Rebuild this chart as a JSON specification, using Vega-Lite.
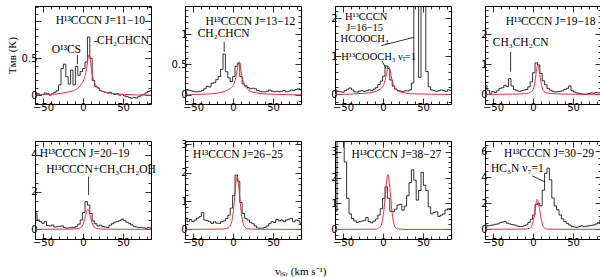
{
"$schema":"https://vega.github.io/schema/vega-lite/v6.json",
"padding":{"left":5,"top":1,"right":1,"bottom":0},
"bounds":"flush",
"columns":4,
"spacing":{"row":37,"column":34},
"title":{"text":"vₗₛᵣ (km s⁻¹)","orient":"bottom","anchor":"middle","font":"Liberation Serif","fontSize":11,"fontWeight":"normal","color":"black","offset":15,"dx":-3},
"datasets":{
"obs":[
{"p":1,"v":-59,"t":0.01},{"p":1,"v":-56,"t":0.02},{"p":1,"v":-53,"t":0.0},{"p":1,"v":-50,"t":0.01},{"p":1,"v":-47,"t":0.03},{"p":1,"v":-44,"t":0.02},{"p":1,"v":-41,"t":0.0},{"p":1,"v":-38,"t":0.02},{"p":1,"v":-35,"t":0.04},{"p":1,"v":-32,"t":0.06},{"p":1,"v":-29,"t":0.14},{"p":1,"v":-26,"t":0.36},{"p":1,"v":-23,"t":0.42},{"p":1,"v":-20,"t":0.25},{"p":1,"v":-17,"t":0.15},{"p":1,"v":-14,"t":0.34},{"p":1,"v":-11,"t":0.14},{"p":1,"v":-8,"t":0.39},{"p":1,"v":-5,"t":0.27},{"p":1,"v":-2,"t":0.32},{"p":1,"v":1,"t":0.36},{"p":1,"v":4,"t":0.45},{"p":1,"v":7,"t":0.79},{"p":1,"v":10,"t":0.5},{"p":1,"v":13,"t":0.2},{"p":1,"v":16,"t":0.12},{"p":1,"v":19,"t":0.1},{"p":1,"v":22,"t":0.06},{"p":1,"v":25,"t":0.05},{"p":1,"v":28,"t":0.04},{"p":1,"v":31,"t":0.03},{"p":1,"v":34,"t":0.04},{"p":1,"v":37,"t":0.02},{"p":1,"v":40,"t":0.01},{"p":1,"v":43,"t":0.02},{"p":1,"v":46,"t":0.0},{"p":1,"v":49,"t":0.01},{"p":1,"v":52,"t":-0.01},{"p":1,"v":55,"t":-0.02},{"p":1,"v":58,"t":-0.03},{"p":1,"v":61,"t":-0.04},{"p":1,"v":64,"t":-0.03},{"p":1,"v":67,"t":-0.04},{"p":1,"v":70,"t":-0.02},{"p":1,"v":73,"t":0.0},{"p":1,"v":76,"t":0.01},{"p":1,"v":79,"t":0.03},{"p":1,"v":82,"t":0.05},{"p":1,"v":85,"t":0.06},
{"p":2,"v":-59,"t":0.08},{"p":2,"v":-56,"t":0.08},{"p":2,"v":-53,"t":0.07},{"p":2,"v":-50,"t":0.06},{"p":2,"v":-47,"t":0.05},{"p":2,"v":-44,"t":0.05},{"p":2,"v":-41,"t":0.06},{"p":2,"v":-38,"t":0.07},{"p":2,"v":-35,"t":0.1},{"p":2,"v":-32,"t":0.14},{"p":2,"v":-29,"t":0.13},{"p":2,"v":-26,"t":0.19},{"p":2,"v":-23,"t":0.2},{"p":2,"v":-20,"t":0.25},{"p":2,"v":-17,"t":0.3},{"p":2,"v":-14,"t":0.42},{"p":2,"v":-11,"t":0.67},{"p":2,"v":-8,"t":0.38},{"p":2,"v":-5,"t":0.28},{"p":2,"v":-2,"t":0.22},{"p":2,"v":1,"t":0.3},{"p":2,"v":4,"t":0.47},{"p":2,"v":7,"t":0.52},{"p":2,"v":10,"t":0.3},{"p":2,"v":13,"t":0.18},{"p":2,"v":16,"t":0.15},{"p":2,"v":19,"t":0.12},{"p":2,"v":22,"t":0.1},{"p":2,"v":25,"t":0.11},{"p":2,"v":28,"t":0.1},{"p":2,"v":31,"t":0.07},{"p":2,"v":34,"t":0.06},{"p":2,"v":37,"t":0.05},{"p":2,"v":40,"t":0.05},{"p":2,"v":43,"t":0.06},{"p":2,"v":46,"t":0.08},{"p":2,"v":49,"t":0.06},{"p":2,"v":52,"t":0.05},{"p":2,"v":55,"t":0.06},{"p":2,"v":58,"t":0.05},{"p":2,"v":61,"t":0.06},{"p":2,"v":64,"t":0.07},{"p":2,"v":67,"t":0.05},{"p":2,"v":70,"t":0.06},{"p":2,"v":73,"t":0.08},{"p":2,"v":76,"t":0.07},{"p":2,"v":79,"t":0.09},{"p":2,"v":82,"t":0.1},{"p":2,"v":85,"t":0.08},
{"p":3,"v":-59,"t":0.12},{"p":3,"v":-56,"t":0.08},{"p":3,"v":-53,"t":0.07},{"p":3,"v":-50,"t":0.06},{"p":3,"v":-47,"t":0.1},{"p":3,"v":-44,"t":0.14},{"p":3,"v":-41,"t":0.17},{"p":3,"v":-38,"t":0.12},{"p":3,"v":-35,"t":0.07},{"p":3,"v":-32,"t":0.06},{"p":3,"v":-29,"t":0.09},{"p":3,"v":-26,"t":0.1},{"p":3,"v":-23,"t":0.08},{"p":3,"v":-20,"t":0.1},{"p":3,"v":-17,"t":0.12},{"p":3,"v":-14,"t":0.1},{"p":3,"v":-11,"t":0.14},{"p":3,"v":-8,"t":0.18},{"p":3,"v":-5,"t":0.26},{"p":3,"v":-2,"t":0.35},{"p":3,"v":1,"t":0.48},{"p":3,"v":4,"t":0.75},{"p":3,"v":7,"t":0.68},{"p":3,"v":10,"t":0.38},{"p":3,"v":13,"t":0.22},{"p":3,"v":16,"t":0.14},{"p":3,"v":19,"t":0.1},{"p":3,"v":22,"t":0.09},{"p":3,"v":25,"t":0.08},{"p":3,"v":28,"t":0.1},{"p":3,"v":31,"t":0.09},{"p":3,"v":34,"t":0.12},{"p":3,"v":37,"t":0.3},{"p":3,"v":40,"t":3.0},{"p":3,"v":43,"t":3.0},{"p":3,"v":46,"t":0.45},{"p":3,"v":49,"t":3.0},{"p":3,"v":52,"t":3.0},{"p":3,"v":55,"t":0.6},{"p":3,"v":58,"t":0.2},{"p":3,"v":61,"t":0.12},{"p":3,"v":64,"t":0.1},{"p":3,"v":67,"t":0.08},{"p":3,"v":70,"t":0.1},{"p":3,"v":73,"t":0.12},{"p":3,"v":76,"t":0.1},{"p":3,"v":79,"t":0.08},{"p":3,"v":82,"t":0.12},{"p":3,"v":85,"t":0.1},
{"p":4,"v":-59,"t":0.3},{"p":4,"v":-56,"t":0.14},{"p":4,"v":-53,"t":0.04},{"p":4,"v":-50,"t":0.1},{"p":4,"v":-47,"t":0.06},{"p":4,"v":-44,"t":0.12},{"p":4,"v":-41,"t":0.2},{"p":4,"v":-38,"t":0.22},{"p":4,"v":-35,"t":0.3},{"p":4,"v":-32,"t":0.26},{"p":4,"v":-29,"t":0.52},{"p":4,"v":-26,"t":0.28},{"p":4,"v":-23,"t":0.16},{"p":4,"v":-20,"t":0.12},{"p":4,"v":-17,"t":0.1},{"p":4,"v":-14,"t":0.12},{"p":4,"v":-11,"t":0.14},{"p":4,"v":-8,"t":0.16},{"p":4,"v":-5,"t":0.25},{"p":4,"v":-2,"t":0.42},{"p":4,"v":1,"t":0.72},{"p":4,"v":4,"t":1.05},{"p":4,"v":7,"t":0.98},{"p":4,"v":10,"t":0.7},{"p":4,"v":13,"t":0.45},{"p":4,"v":16,"t":0.32},{"p":4,"v":19,"t":0.2},{"p":4,"v":22,"t":0.14},{"p":4,"v":25,"t":0.1},{"p":4,"v":28,"t":0.08},{"p":4,"v":31,"t":0.09},{"p":4,"v":34,"t":0.1},{"p":4,"v":37,"t":0.12},{"p":4,"v":40,"t":0.16},{"p":4,"v":43,"t":0.2},{"p":4,"v":46,"t":0.28},{"p":4,"v":49,"t":0.12},{"p":4,"v":52,"t":0.08},{"p":4,"v":55,"t":0.05},{"p":4,"v":58,"t":0.03},{"p":4,"v":61,"t":0.02},{"p":4,"v":64,"t":0.0},{"p":4,"v":67,"t":0.01},{"p":4,"v":70,"t":0.03},{"p":4,"v":73,"t":0.05},{"p":4,"v":76,"t":0.04},{"p":4,"v":79,"t":0.06},{"p":4,"v":82,"t":0.05},{"p":4,"v":85,"t":0.07},
{"p":5,"v":-59,"t":0.86},{"p":5,"v":-56,"t":0.5},{"p":5,"v":-53,"t":0.41},{"p":5,"v":-50,"t":0.32},{"p":5,"v":-47,"t":0.41},{"p":5,"v":-44,"t":0.2},{"p":5,"v":-41,"t":0.18},{"p":5,"v":-38,"t":0.23},{"p":5,"v":-35,"t":0.12},{"p":5,"v":-32,"t":0.14},{"p":5,"v":-29,"t":0.16},{"p":5,"v":-26,"t":0.18},{"p":5,"v":-23,"t":0.1},{"p":5,"v":-20,"t":0.06},{"p":5,"v":-17,"t":0.08},{"p":5,"v":-14,"t":0.1},{"p":5,"v":-11,"t":0.1},{"p":5,"v":-8,"t":0.15},{"p":5,"v":-5,"t":0.28},{"p":5,"v":-2,"t":0.5},{"p":5,"v":1,"t":0.9},{"p":5,"v":4,"t":1.48},{"p":5,"v":7,"t":1.3},{"p":5,"v":10,"t":0.85},{"p":5,"v":13,"t":0.45},{"p":5,"v":16,"t":0.3},{"p":5,"v":19,"t":0.18},{"p":5,"v":22,"t":0.22},{"p":5,"v":25,"t":0.15},{"p":5,"v":28,"t":0.12},{"p":5,"v":31,"t":0.1},{"p":5,"v":34,"t":0.22},{"p":5,"v":37,"t":0.3},{"p":5,"v":40,"t":0.38},{"p":5,"v":43,"t":0.42},{"p":5,"v":46,"t":0.46},{"p":5,"v":49,"t":0.54},{"p":5,"v":52,"t":0.48},{"p":5,"v":55,"t":0.38},{"p":5,"v":58,"t":0.32},{"p":5,"v":61,"t":0.24},{"p":5,"v":64,"t":0.16},{"p":5,"v":67,"t":0.12},{"p":5,"v":70,"t":0.1},{"p":5,"v":73,"t":0.1},{"p":5,"v":76,"t":0.08},{"p":5,"v":79,"t":0.05},{"p":5,"v":82,"t":0.1},{"p":5,"v":85,"t":0.06},
{"p":6,"v":-59,"t":0.39},{"p":6,"v":-56,"t":0.27},{"p":6,"v":-53,"t":0.35},{"p":6,"v":-50,"t":0.27},{"p":6,"v":-47,"t":0.33},{"p":6,"v":-44,"t":0.4},{"p":6,"v":-41,"t":0.45},{"p":6,"v":-38,"t":0.59},{"p":6,"v":-35,"t":0.33},{"p":6,"v":-32,"t":0.3},{"p":6,"v":-29,"t":0.27},{"p":6,"v":-26,"t":0.21},{"p":6,"v":-23,"t":0.27},{"p":6,"v":-20,"t":0.22},{"p":6,"v":-17,"t":0.21},{"p":6,"v":-14,"t":0.27},{"p":6,"v":-11,"t":0.3},{"p":6,"v":-8,"t":0.38},{"p":6,"v":-5,"t":0.5},{"p":6,"v":-2,"t":0.75},{"p":6,"v":1,"t":1.2},{"p":6,"v":4,"t":1.92},{"p":6,"v":7,"t":1.7},{"p":6,"v":10,"t":0.95},{"p":6,"v":13,"t":0.56},{"p":6,"v":16,"t":0.39},{"p":6,"v":19,"t":0.33},{"p":6,"v":22,"t":0.25},{"p":6,"v":25,"t":0.2},{"p":6,"v":28,"t":0.12},{"p":6,"v":31,"t":0.05},{"p":6,"v":34,"t":0.04},{"p":6,"v":37,"t":0.04},{"p":6,"v":40,"t":0.07},{"p":6,"v":43,"t":0.12},{"p":6,"v":46,"t":0.2},{"p":6,"v":49,"t":0.27},{"p":6,"v":52,"t":0.24},{"p":6,"v":55,"t":0.35},{"p":6,"v":58,"t":0.3},{"p":6,"v":61,"t":0.33},{"p":6,"v":64,"t":0.27},{"p":6,"v":67,"t":0.33},{"p":6,"v":70,"t":0.36},{"p":6,"v":73,"t":0.39},{"p":6,"v":76,"t":0.27},{"p":6,"v":79,"t":0.33},{"p":6,"v":82,"t":0.3},{"p":6,"v":85,"t":0.21},
{"p":7,"v":-59,"t":0.7},{"p":7,"v":-56,"t":3.6},{"p":7,"v":-53,"t":3.6},{"p":7,"v":-50,"t":3.6},{"p":7,"v":-47,"t":2.6},{"p":7,"v":-44,"t":1.2},{"p":7,"v":-41,"t":0.6},{"p":7,"v":-38,"t":0.42},{"p":7,"v":-35,"t":0.33},{"p":7,"v":-32,"t":0.27},{"p":7,"v":-29,"t":0.3},{"p":7,"v":-26,"t":0.32},{"p":7,"v":-23,"t":0.35},{"p":7,"v":-20,"t":0.46},{"p":7,"v":-17,"t":0.3},{"p":7,"v":-14,"t":0.25},{"p":7,"v":-11,"t":0.32},{"p":7,"v":-8,"t":0.4},{"p":7,"v":-5,"t":0.55},{"p":7,"v":-2,"t":0.8},{"p":7,"v":1,"t":1.2},{"p":7,"v":4,"t":1.64},{"p":7,"v":7,"t":1.2},{"p":7,"v":10,"t":0.7},{"p":7,"v":13,"t":0.68},{"p":7,"v":16,"t":0.78},{"p":7,"v":19,"t":0.94},{"p":7,"v":22,"t":0.97},{"p":7,"v":25,"t":0.74},{"p":7,"v":28,"t":0.9},{"p":7,"v":31,"t":1.3},{"p":7,"v":34,"t":1.8},{"p":7,"v":37,"t":2.3},{"p":7,"v":40,"t":1.9},{"p":7,"v":43,"t":1.13},{"p":7,"v":46,"t":1.5},{"p":7,"v":49,"t":2.2},{"p":7,"v":52,"t":1.7},{"p":7,"v":55,"t":1.5},{"p":7,"v":58,"t":0.87},{"p":7,"v":61,"t":0.6},{"p":7,"v":64,"t":0.65},{"p":7,"v":67,"t":0.68},{"p":7,"v":70,"t":0.5},{"p":7,"v":73,"t":0.55},{"p":7,"v":76,"t":0.6},{"p":7,"v":79,"t":0.75},{"p":7,"v":82,"t":0.8},{"p":7,"v":85,"t":0.8},
{"p":8,"v":-59,"t":0.33},{"p":8,"v":-56,"t":0.26},{"p":8,"v":-53,"t":0.3},{"p":8,"v":-50,"t":0.33},{"p":8,"v":-47,"t":0.38},{"p":8,"v":-44,"t":0.41},{"p":8,"v":-41,"t":0.5},{"p":8,"v":-38,"t":0.55},{"p":8,"v":-35,"t":0.59},{"p":8,"v":-32,"t":0.46},{"p":8,"v":-29,"t":0.41},{"p":8,"v":-26,"t":0.36},{"p":8,"v":-23,"t":0.33},{"p":8,"v":-20,"t":0.26},{"p":8,"v":-17,"t":0.22},{"p":8,"v":-14,"t":0.2},{"p":8,"v":-11,"t":0.26},{"p":8,"v":-8,"t":0.33},{"p":8,"v":-5,"t":0.51},{"p":8,"v":-2,"t":0.77},{"p":8,"v":1,"t":1.1},{"p":8,"v":4,"t":1.9},{"p":8,"v":7,"t":2.0},{"p":8,"v":10,"t":1.8},{"p":8,"v":13,"t":3.0},{"p":8,"v":16,"t":4.3},{"p":8,"v":19,"t":4.7},{"p":8,"v":22,"t":3.8},{"p":8,"v":25,"t":2.4},{"p":8,"v":28,"t":1.8},{"p":8,"v":31,"t":1.5},{"p":8,"v":34,"t":1.1},{"p":8,"v":37,"t":0.8},{"p":8,"v":40,"t":0.6},{"p":8,"v":43,"t":0.45},{"p":8,"v":46,"t":0.33},{"p":8,"v":49,"t":0.22},{"p":8,"v":52,"t":0.18},{"p":8,"v":55,"t":0.15},{"p":8,"v":58,"t":0.2},{"p":8,"v":61,"t":0.26},{"p":8,"v":64,"t":0.2},{"p":8,"v":67,"t":0.22},{"p":8,"v":70,"t":0.26},{"p":8,"v":73,"t":0.3},{"p":8,"v":76,"t":0.33},{"p":8,"v":79,"t":0.4},{"p":8,"v":82,"t":0.5},{"p":8,"v":85,"t":0.7}
],
"mod":[
{"p":1,"v":-60,"t":0.0},{"p":1,"v":-45,"t":0.01},{"p":1,"v":-30,"t":0.02},{"p":1,"v":-20,"t":0.04},{"p":1,"v":-12,"t":0.06},{"p":1,"v":-6,"t":0.1},{"p":1,"v":-2,"t":0.15},{"p":1,"v":1,"t":0.21},{"p":1,"v":3,"t":0.28},{"p":1,"v":5,"t":0.4},{"p":1,"v":6,"t":0.48},{"p":1,"v":7,"t":0.54},{"p":1,"v":8,"t":0.55},{"p":1,"v":9,"t":0.5},{"p":1,"v":10,"t":0.4},{"p":1,"v":12,"t":0.26},{"p":1,"v":14,"t":0.18},{"p":1,"v":17,"t":0.12},{"p":1,"v":20,"t":0.08},{"p":1,"v":25,"t":0.05},{"p":1,"v":35,"t":0.025},{"p":1,"v":50,"t":0.01},{"p":1,"v":85,"t":0.0},
{"p":2,"v":-60,"t":0.0},{"p":2,"v":-40,"t":0.01},{"p":2,"v":-25,"t":0.02},{"p":2,"v":-15,"t":0.04},{"p":2,"v":-8,"t":0.07},{"p":2,"v":-3,"t":0.11},{"p":2,"v":0,"t":0.15},{"p":2,"v":2,"t":0.21},{"p":2,"v":4,"t":0.32},{"p":2,"v":6,"t":0.47},{"p":2,"v":7,"t":0.53},{"p":2,"v":8,"t":0.54},{"p":2,"v":9,"t":0.5},{"p":2,"v":10,"t":0.4},{"p":2,"v":12,"t":0.26},{"p":2,"v":14,"t":0.17},{"p":2,"v":17,"t":0.11},{"p":2,"v":20,"t":0.07},{"p":2,"v":25,"t":0.045},{"p":2,"v":35,"t":0.02},{"p":2,"v":50,"t":0.01},{"p":2,"v":85,"t":0.0},
{"p":3,"v":-60,"t":0.0},{"p":3,"v":-40,"t":0.01},{"p":3,"v":-25,"t":0.03},{"p":3,"v":-15,"t":0.05},{"p":3,"v":-8,"t":0.09},{"p":3,"v":-3,"t":0.15},{"p":3,"v":0,"t":0.22},{"p":3,"v":2,"t":0.32},{"p":3,"v":4,"t":0.5},{"p":3,"v":6,"t":0.7},{"p":3,"v":7,"t":0.73},{"p":3,"v":8,"t":0.7},{"p":3,"v":10,"t":0.5},{"p":3,"v":12,"t":0.32},{"p":3,"v":14,"t":0.21},{"p":3,"v":17,"t":0.13},{"p":3,"v":20,"t":0.08},{"p":3,"v":25,"t":0.05},{"p":3,"v":35,"t":0.02},{"p":3,"v":50,"t":0.01},{"p":3,"v":85,"t":0.0},
{"p":4,"v":-60,"t":0.0},{"p":4,"v":-20,"t":0.01},{"p":4,"v":-8,"t":0.03},{"p":4,"v":-3,"t":0.07},{"p":4,"v":0,"t":0.15},{"p":4,"v":2,"t":0.35},{"p":4,"v":4,"t":0.72},{"p":4,"v":5,"t":0.9},{"p":4,"v":6,"t":0.97},{"p":4,"v":7,"t":0.92},{"p":4,"v":8,"t":0.75},{"p":4,"v":10,"t":0.4},{"p":4,"v":12,"t":0.18},{"p":4,"v":14,"t":0.09},{"p":4,"v":17,"t":0.05},{"p":4,"v":22,"t":0.03},{"p":4,"v":30,"t":0.015},{"p":4,"v":50,"t":0.005},{"p":4,"v":85,"t":0.0},
{"p":5,"v":-60,"t":0.0},{"p":5,"v":-15,"t":0.01},{"p":5,"v":-5,"t":0.05},{"p":5,"v":-2,"t":0.12},{"p":5,"v":0,"t":0.25},{"p":5,"v":2,"t":0.5},{"p":5,"v":4,"t":0.88},{"p":5,"v":6,"t":1.07},{"p":5,"v":8,"t":0.9},{"p":5,"v":10,"t":0.55},{"p":5,"v":12,"t":0.28},{"p":5,"v":14,"t":0.12},{"p":5,"v":17,"t":0.05},{"p":5,"v":22,"t":0.02},{"p":5,"v":35,"t":0.005},{"p":5,"v":85,"t":0.0},
{"p":6,"v":-60,"t":0.0},{"p":6,"v":-15,"t":0.01},{"p":6,"v":-6,"t":0.05},{"p":6,"v":-3,"t":0.15},{"p":6,"v":-1,"t":0.35},{"p":6,"v":1,"t":0.8},{"p":6,"v":3,"t":1.45},{"p":6,"v":4,"t":1.75},{"p":6,"v":5,"t":1.86},{"p":6,"v":6,"t":1.78},{"p":6,"v":7,"t":1.55},{"p":6,"v":9,"t":0.95},{"p":6,"v":11,"t":0.45},{"p":6,"v":13,"t":0.18},{"p":6,"v":15,"t":0.07},{"p":6,"v":18,"t":0.02},{"p":6,"v":30,"t":0.005},{"p":6,"v":85,"t":0.0},
{"p":7,"v":-60,"t":0.0},{"p":7,"v":-10,"t":0.01},{"p":7,"v":-4,"t":0.08},{"p":7,"v":-1,"t":0.3},{"p":7,"v":1,"t":0.7},{"p":7,"v":3,"t":1.35},{"p":7,"v":5,"t":1.95},{"p":7,"v":6,"t":2.12},{"p":7,"v":7,"t":2.0},{"p":7,"v":9,"t":1.45},{"p":7,"v":11,"t":0.75},{"p":7,"v":13,"t":0.3},{"p":7,"v":15,"t":0.1},{"p":7,"v":18,"t":0.02},{"p":7,"v":30,"t":0.0},{"p":7,"v":85,"t":0.0},
{"p":8,"v":-60,"t":0.0},{"p":8,"v":-10,"t":0.01},{"p":8,"v":-4,"t":0.08},{"p":8,"v":-1,"t":0.35},{"p":8,"v":1,"t":0.85},{"p":8,"v":3,"t":1.6},{"p":8,"v":4,"t":2.05},{"p":8,"v":5,"t":2.3},{"p":8,"v":6,"t":2.2},{"p":8,"v":8,"t":1.6},{"p":8,"v":10,"t":0.85},{"p":8,"v":12,"t":0.35},{"p":8,"v":14,"t":0.1},{"p":8,"v":17,"t":0.02},{"p":8,"v":30,"t":0.0},{"p":8,"v":85,"t":0.0}
],
"lab":[
{"p":1,"v":21.7,"t":1.0,"s":"H¹³CCCN J=11−10"},{"p":1,"v":-20.8,"t":0.61,"s":"O¹³CS"},{"p":1,"v":50,"t":0.74,"s":"CH₂CHCN"},
{"p":2,"v":21.7,"t":1.2,"s":"H¹³CCCN J=13−12"},{"p":2,"v":-11.7,"t":0.995,"s":"CH₂CHCN"},
{"p":3,"v":-21,"t":2.02,"s":"H¹³CCCN"},{"p":3,"v":-23,"t":1.74,"s":"J=16−15"},{"p":3,"v":-23,"t":1.46,"s":"HCOOCH₃"},{"p":3,"v":-5.5,"t":0.99,"s":"H¹³COOCH₃  νₜ=1"},
{"p":4,"v":22,"t":2.42,"s":"H¹³CCCN J=19−18"},{"p":4,"v":-15.4,"t":1.7,"s":"CH₃CH₂CN"},
{"p":5,"v":2,"t":4.04,"s":"H¹³CCCN J=20−19"},{"p":5,"v":22.5,"t":3.18,"s":"H¹³CCCN+CH₃CH₂OH"},
{"p":6,"v":6.25,"t":2.62,"s":"H¹³CCCN J=26−25"},
{"p":7,"v":16.8,"t":2.87,"s":"H¹³CCCN J=38−27"},
{"p":8,"v":20,"t":5.8,"s":"H¹³CCCN J=30−29"},{"p":8,"v":-19.6,"t":4.6,"s":"HC₃N  ν₇=1"}
],
"tk":[
{"p":1,"v":-7,"t":0.545,"v2":-7,"t2":0.42},{"p":1,"v":13.8,"t":0.727,"v2":18.8,"t2":0.727},
{"p":2,"v":-11,"t":0.87,"v2":-11,"t2":0.71},
{"p":3,"v":-2.4,"t":1.28,"v2":38.8,"t2":1.5},{"p":3,"v":-1.2,"t":0.876,"v2":4,"t2":0.68},
{"p":4,"v":-28,"t":1.42,"v2":-28,"t2":0.75},
{"p":5,"v":7,"t":2.82,"v2":7,"t2":1.84},
{"p":8,"v":-0.8,"t":4.1,"v2":15,"t2":3.64}
]
},
"concat":[
{"width":116,"height":98,"resolve":{"axis":{"x":"independent","y":"independent"}},"layer":[
{"data":{"name":"obs"},"transform":[{"filter":"datum.p==1"}],"mark":{"type":"line","interpolate":"step","color":"black","strokeWidth":0.8,"clip":true},"encoding":{"x":{"field":"v","type":"quantitative","scale":{"domain":[-60,85],"nice":false,"zero":false},"axis":{"orient":"bottom","title":null,"values":[-60,-50,-40,-30,-20,-10,0,10,20,30,40,50,60,70,80],"labelExpr":"datum.value % 50 === 0 ? datum.label : ''","tickSize":{"condition":{"test":"datum.value % 50 === 0","value":-6},"value":-3}}},"y":{"field":"t","type":"quantitative","scale":{"domain":[-0.12,1.21],"nice":false,"zero":false},"axis":{"orient":"left","title":"Tᴍʙ (K)","format":"~g","values":[-0.1,0,0.1,0.2,0.3,0.4,0.5,0.6,0.7,0.8,0.9,1.0,1.1,1.2],"labelExpr":"datum.value === 0 || datum.value === 0.5 ? datum.label : ''","tickSize":{"condition":{"test":"datum.value % 0.5 === 0","value":-6},"value":-3}}}}},
{"data":{"name":"mod"},"transform":[{"filter":"datum.p==1"}],"mark":{"type":"line","interpolate":"monotone","color":"#e3343c","strokeWidth":1,"clip":true},"encoding":{"x":{"field":"v","type":"quantitative","scale":{"domain":[-60,85],"nice":false,"zero":false},"axis":{"orient":"top","title":null,"labels":false,"values":[-60,-50,-40,-30,-20,-10,0,10,20,30,40,50,60,70,80],"tickSize":{"condition":{"test":"datum.value % 50 === 0","value":-6},"value":-3}}},"y":{"field":"t","type":"quantitative","scale":{"domain":[-0.12,1.21],"nice":false,"zero":false},"axis":{"orient":"right","title":null,"labels":false,"values":[-0.1,0,0.1,0.2,0.3,0.4,0.5,0.6,0.7,0.8,0.9,1.0,1.1,1.2],"tickSize":{"condition":{"test":"datum.value % 0.5 === 0","value":-6},"value":-3}}}}},
{"data":{"name":"lab"},"transform":[{"filter":"datum.p==1"}],"mark":{"type":"text","font":"Liberation Serif","fontSize":11.5,"color":"black","align":"center","baseline":"middle"},"encoding":{"x":{"field":"v","type":"quantitative","scale":{"domain":[-60,85],"nice":false,"zero":false},"axis":null},"y":{"field":"t","type":"quantitative","scale":{"domain":[-0.12,1.21],"nice":false,"zero":false},"axis":null},"text":{"field":"s"}}},
{"data":{"name":"tk"},"transform":[{"filter":"datum.p==1"}],"mark":{"type":"rule","color":"black","strokeWidth":0.8},"encoding":{"x":{"field":"v","type":"quantitative","scale":{"domain":[-60,85],"nice":false,"zero":false},"axis":null},"y":{"field":"t","type":"quantitative","scale":{"domain":[-0.12,1.21],"nice":false,"zero":false},"axis":null},"x2":{"field":"v2"},"y2":{"field":"t2"}}}
]},
{"width":116,"height":98,"resolve":{"axis":{"x":"independent","y":"independent"}},"layer":[
{"data":{"name":"obs"},"transform":[{"filter":"datum.p==2"}],"mark":{"type":"line","interpolate":"step","color":"black","strokeWidth":0.8,"clip":true},"encoding":{"x":{"field":"v","type":"quantitative","scale":{"domain":[-60,85],"nice":false,"zero":false},"axis":{"orient":"bottom","title":null,"values":[-60,-50,-40,-30,-20,-10,0,10,20,30,40,50,60,70,80],"labelExpr":"datum.value % 50 === 0 ? datum.label : ''","tickSize":{"condition":{"test":"datum.value % 50 === 0","value":-6},"value":-3}}},"y":{"field":"t","type":"quantitative","scale":{"domain":[-0.15,1.46],"nice":false,"zero":false},"axis":{"orient":"left","title":null,"format":"~g","values":[-0.1,0,0.1,0.2,0.3,0.4,0.5,0.6,0.7,0.8,0.9,1.0,1.1,1.2,1.3,1.4],"labelExpr":"datum.value % 0.5 === 0 ? datum.label : ''","tickSize":{"condition":{"test":"datum.value % 0.5 === 0","value":-6},"value":-3}}}}},
{"data":{"name":"mod"},"transform":[{"filter":"datum.p==2"}],"mark":{"type":"line","interpolate":"monotone","color":"#e3343c","strokeWidth":1,"clip":true},"encoding":{"x":{"field":"v","type":"quantitative","scale":{"domain":[-60,85],"nice":false,"zero":false},"axis":{"orient":"top","title":null,"labels":false,"values":[-60,-50,-40,-30,-20,-10,0,10,20,30,40,50,60,70,80],"tickSize":{"condition":{"test":"datum.value % 50 === 0","value":-6},"value":-3}}},"y":{"field":"t","type":"quantitative","scale":{"domain":[-0.15,1.46],"nice":false,"zero":false},"axis":{"orient":"right","title":null,"labels":false,"values":[-0.1,0,0.1,0.2,0.3,0.4,0.5,0.6,0.7,0.8,0.9,1.0,1.1,1.2,1.3,1.4],"tickSize":{"condition":{"test":"datum.value % 0.5 === 0","value":-6},"value":-3}}}}},
{"data":{"name":"lab"},"transform":[{"filter":"datum.p==2"}],"mark":{"type":"text","font":"Liberation Serif","fontSize":11.5,"color":"black","align":"center","baseline":"middle"},"encoding":{"x":{"field":"v","type":"quantitative","scale":{"domain":[-60,85],"nice":false,"zero":false},"axis":null},"y":{"field":"t","type":"quantitative","scale":{"domain":[-0.15,1.46],"nice":false,"zero":false},"axis":null},"text":{"field":"s"}}},
{"data":{"name":"tk"},"transform":[{"filter":"datum.p==2"}],"mark":{"type":"rule","color":"black","strokeWidth":0.8},"encoding":{"x":{"field":"v","type":"quantitative","scale":{"domain":[-60,85],"nice":false,"zero":false},"axis":null},"y":{"field":"t","type":"quantitative","scale":{"domain":[-0.15,1.46],"nice":false,"zero":false},"axis":null},"x2":{"field":"v2"},"y2":{"field":"t2"}}}
]},
{"width":116,"height":98,"resolve":{"axis":{"x":"independent","y":"independent"}},"layer":[
{"data":{"name":"obs"},"transform":[{"filter":"datum.p==3"}],"mark":{"type":"line","interpolate":"step","color":"black","strokeWidth":0.8,"clip":true},"encoding":{"x":{"field":"v","type":"quantitative","scale":{"domain":[-60,85],"nice":false,"zero":false},"axis":{"orient":"bottom","title":null,"values":[-60,-50,-40,-30,-20,-10,0,10,20,30,40,50,60,70,80],"labelExpr":"datum.value % 50 === 0 ? datum.label : ''","tickSize":{"condition":{"test":"datum.value % 50 === 0","value":-6},"value":-3}}},"y":{"field":"t","type":"quantitative","scale":{"domain":[-0.25,2.32],"nice":false,"zero":false},"axis":{"orient":"left","title":null,"format":"~g","values":[-0.2,0,0.2,0.4,0.6,0.8,1,1.2,1.4,1.6,1.8,2,2.2],"labelExpr":"datum.value % 1 === 0 ? datum.label : ''","tickSize":{"condition":{"test":"datum.value % 1 === 0","value":-6},"value":-3}}}}},
{"data":{"name":"mod"},"transform":[{"filter":"datum.p==3"}],"mark":{"type":"line","interpolate":"monotone","color":"#e3343c","strokeWidth":1,"clip":true},"encoding":{"x":{"field":"v","type":"quantitative","scale":{"domain":[-60,85],"nice":false,"zero":false},"axis":{"orient":"top","title":null,"labels":false,"values":[-60,-50,-40,-30,-20,-10,0,10,20,30,40,50,60,70,80],"tickSize":{"condition":{"test":"datum.value % 50 === 0","value":-6},"value":-3}}},"y":{"field":"t","type":"quantitative","scale":{"domain":[-0.25,2.32],"nice":false,"zero":false},"axis":{"orient":"right","title":null,"labels":false,"values":[-0.2,0,0.2,0.4,0.6,0.8,1,1.2,1.4,1.6,1.8,2,2.2],"tickSize":{"condition":{"test":"datum.value % 1 === 0","value":-6},"value":-3}}}}},
{"data":{"name":"lab"},"transform":[{"filter":"datum.p==3"}],"mark":{"type":"text","font":"Liberation Serif","fontSize":10.5,"color":"black","align":"center","baseline":"middle"},"encoding":{"x":{"field":"v","type":"quantitative","scale":{"domain":[-60,85],"nice":false,"zero":false},"axis":null},"y":{"field":"t","type":"quantitative","scale":{"domain":[-0.25,2.32],"nice":false,"zero":false},"axis":null},"text":{"field":"s"}}},
{"data":{"name":"tk"},"transform":[{"filter":"datum.p==3"}],"mark":{"type":"rule","color":"black","strokeWidth":0.8},"encoding":{"x":{"field":"v","type":"quantitative","scale":{"domain":[-60,85],"nice":false,"zero":false},"axis":null},"y":{"field":"t","type":"quantitative","scale":{"domain":[-0.25,2.32],"nice":false,"zero":false},"axis":null},"x2":{"field":"v2"},"y2":{"field":"t2"}}}
]},
{"width":116,"height":98,"resolve":{"axis":{"x":"independent","y":"independent"}},"layer":[
{"data":{"name":"obs"},"transform":[{"filter":"datum.p==4"}],"mark":{"type":"line","interpolate":"step","color":"black","strokeWidth":0.8,"clip":true},"encoding":{"x":{"field":"v","type":"quantitative","scale":{"domain":[-60,85],"nice":false,"zero":false},"axis":{"orient":"bottom","title":null,"values":[-60,-50,-40,-30,-20,-10,0,10,20,30,40,50,60,70,80],"labelExpr":"datum.value % 50 === 0 ? datum.label : ''","tickSize":{"condition":{"test":"datum.value % 50 === 0","value":-6},"value":-3}}},"y":{"field":"t","type":"quantitative","scale":{"domain":[-0.32,2.94],"nice":false,"zero":false},"axis":{"orient":"left","title":null,"format":"~g","values":[-0.2,0,0.2,0.4,0.6,0.8,1,1.2,1.4,1.6,1.8,2,2.2,2.4,2.6,2.8],"labelExpr":"datum.value % 1 === 0 ? datum.label : ''","tickSize":{"condition":{"test":"datum.value % 1 === 0","value":-6},"value":-3}}}}},
{"data":{"name":"mod"},"transform":[{"filter":"datum.p==4"}],"mark":{"type":"line","interpolate":"monotone","color":"#e3343c","strokeWidth":1,"clip":true},"encoding":{"x":{"field":"v","type":"quantitative","scale":{"domain":[-60,85],"nice":false,"zero":false},"axis":{"orient":"top","title":null,"labels":false,"values":[-60,-50,-40,-30,-20,-10,0,10,20,30,40,50,60,70,80],"tickSize":{"condition":{"test":"datum.value % 50 === 0","value":-6},"value":-3}}},"y":{"field":"t","type":"quantitative","scale":{"domain":[-0.32,2.94],"nice":false,"zero":false},"axis":{"orient":"right","title":null,"labels":false,"values":[-0.2,0,0.2,0.4,0.6,0.8,1,1.2,1.4,1.6,1.8,2,2.2,2.4,2.6,2.8],"tickSize":{"condition":{"test":"datum.value % 1 === 0","value":-6},"value":-3}}}}},
{"data":{"name":"lab"},"transform":[{"filter":"datum.p==4"}],"mark":{"type":"text","font":"Liberation Serif","fontSize":11.5,"color":"black","align":"center","baseline":"middle"},"encoding":{"x":{"field":"v","type":"quantitative","scale":{"domain":[-60,85],"nice":false,"zero":false},"axis":null},"y":{"field":"t","type":"quantitative","scale":{"domain":[-0.32,2.94],"nice":false,"zero":false},"axis":null},"text":{"field":"s"}}},
{"data":{"name":"tk"},"transform":[{"filter":"datum.p==4"}],"mark":{"type":"rule","color":"black","strokeWidth":0.8},"encoding":{"x":{"field":"v","type":"quantitative","scale":{"domain":[-60,85],"nice":false,"zero":false},"axis":null},"y":{"field":"t","type":"quantitative","scale":{"domain":[-0.32,2.94],"nice":false,"zero":false},"axis":null},"x2":{"field":"v2"},"y2":{"field":"t2"}}}
]},
{"width":116,"height":98,"resolve":{"axis":{"x":"independent","y":"independent"}},"layer":[
{"data":{"name":"obs"},"transform":[{"filter":"datum.p==5"}],"mark":{"type":"line","interpolate":"step","color":"black","strokeWidth":0.8,"clip":true},"encoding":{"x":{"field":"v","type":"quantitative","scale":{"domain":[-60,85],"nice":false,"zero":false},"axis":{"orient":"bottom","title":null,"values":[-60,-50,-40,-30,-20,-10,0,10,20,30,40,50,60,70,80],"labelExpr":"datum.value % 50 === 0 ? datum.label : ''","tickSize":{"condition":{"test":"datum.value % 50 === 0","value":-6},"value":-3}}},"y":{"field":"t","type":"quantitative","scale":{"domain":[-0.52,4.73],"nice":false,"zero":false},"axis":{"orient":"left","title":null,"format":"~g","values":[-0.5,0,0.5,1,1.5,2,2.5,3,3.5,4,4.5],"labelExpr":"datum.value % 2 === 0 ? datum.label : ''","tickSize":{"condition":{"test":"datum.value % 2 === 0","value":-6},"value":-3}}}}},
{"data":{"name":"mod"},"transform":[{"filter":"datum.p==5"}],"mark":{"type":"line","interpolate":"monotone","color":"#e3343c","strokeWidth":1,"clip":true},"encoding":{"x":{"field":"v","type":"quantitative","scale":{"domain":[-60,85],"nice":false,"zero":false},"axis":{"orient":"top","title":null,"labels":false,"values":[-60,-50,-40,-30,-20,-10,0,10,20,30,40,50,60,70,80],"tickSize":{"condition":{"test":"datum.value % 50 === 0","value":-6},"value":-3}}},"y":{"field":"t","type":"quantitative","scale":{"domain":[-0.52,4.73],"nice":false,"zero":false},"axis":{"orient":"right","title":null,"labels":false,"values":[-0.5,0,0.5,1,1.5,2,2.5,3,3.5,4,4.5],"tickSize":{"condition":{"test":"datum.value % 2 === 0","value":-6},"value":-3}}}}},
{"data":{"name":"lab"},"transform":[{"filter":"datum.p==5"}],"mark":{"type":"text","font":"Liberation Serif","fontSize":11.5,"color":"black","align":"center","baseline":"middle"},"encoding":{"x":{"field":"v","type":"quantitative","scale":{"domain":[-60,85],"nice":false,"zero":false},"axis":null},"y":{"field":"t","type":"quantitative","scale":{"domain":[-0.52,4.73],"nice":false,"zero":false},"axis":null},"text":{"field":"s"}}},
{"data":{"name":"tk"},"transform":[{"filter":"datum.p==5"}],"mark":{"type":"rule","color":"black","strokeWidth":0.8},"encoding":{"x":{"field":"v","type":"quantitative","scale":{"domain":[-60,85],"nice":false,"zero":false},"axis":null},"y":{"field":"t","type":"quantitative","scale":{"domain":[-0.52,4.73],"nice":false,"zero":false},"axis":null},"x2":{"field":"v2"},"y2":{"field":"t2"}}}
]},
{"width":116,"height":98,"resolve":{"axis":{"x":"independent","y":"independent"}},"layer":[
{"data":{"name":"obs"},"transform":[{"filter":"datum.p==6"}],"mark":{"type":"line","interpolate":"step","color":"black","strokeWidth":0.8,"clip":true},"encoding":{"x":{"field":"v","type":"quantitative","scale":{"domain":[-60,85],"nice":false,"zero":false},"axis":{"orient":"bottom","title":null,"values":[-60,-50,-40,-30,-20,-10,0,10,20,30,40,50,60,70,80],"labelExpr":"datum.value % 50 === 0 ? datum.label : ''","tickSize":{"condition":{"test":"datum.value % 50 === 0","value":-6},"value":-3}}},"y":{"field":"t","type":"quantitative","scale":{"domain":[-0.34,3.12],"nice":false,"zero":false},"axis":{"orient":"left","title":null,"format":"~g","values":[-0.2,0,0.2,0.4,0.6,0.8,1,1.2,1.4,1.6,1.8,2,2.2,2.4,2.6,2.8,3],"labelExpr":"datum.value % 1 === 0 ? datum.label : ''","tickSize":{"condition":{"test":"datum.value % 1 === 0","value":-6},"value":-3}}}}},
{"data":{"name":"mod"},"transform":[{"filter":"datum.p==6"}],"mark":{"type":"line","interpolate":"monotone","color":"#e3343c","strokeWidth":1,"clip":true},"encoding":{"x":{"field":"v","type":"quantitative","scale":{"domain":[-60,85],"nice":false,"zero":false},"axis":{"orient":"top","title":null,"labels":false,"values":[-60,-50,-40,-30,-20,-10,0,10,20,30,40,50,60,70,80],"tickSize":{"condition":{"test":"datum.value % 50 === 0","value":-6},"value":-3}}},"y":{"field":"t","type":"quantitative","scale":{"domain":[-0.34,3.12],"nice":false,"zero":false},"axis":{"orient":"right","title":null,"labels":false,"values":[-0.2,0,0.2,0.4,0.6,0.8,1,1.2,1.4,1.6,1.8,2,2.2,2.4,2.6,2.8,3],"tickSize":{"condition":{"test":"datum.value % 1 === 0","value":-6},"value":-3}}}}},
{"data":{"name":"lab"},"transform":[{"filter":"datum.p==6"}],"mark":{"type":"text","font":"Liberation Serif","fontSize":11.5,"color":"black","align":"center","baseline":"middle"},"encoding":{"x":{"field":"v","type":"quantitative","scale":{"domain":[-60,85],"nice":false,"zero":false},"axis":null},"y":{"field":"t","type":"quantitative","scale":{"domain":[-0.34,3.12],"nice":false,"zero":false},"axis":null},"text":{"field":"s"}}}
]},
{"width":116,"height":98,"resolve":{"axis":{"x":"independent","y":"independent"}},"layer":[
{"data":{"name":"obs"},"transform":[{"filter":"datum.p==7"}],"mark":{"type":"line","interpolate":"step","color":"black","strokeWidth":0.8,"clip":true},"encoding":{"x":{"field":"v","type":"quantitative","scale":{"domain":[-60,85],"nice":false,"zero":false},"axis":{"orient":"bottom","title":null,"values":[-60,-50,-40,-30,-20,-10,0,10,20,30,40,50,60,70,80],"labelExpr":"datum.value % 50 === 0 ? datum.label : ''","tickSize":{"condition":{"test":"datum.value % 50 === 0","value":-6},"value":-3}}},"y":{"field":"t","type":"quantitative","scale":{"domain":[-0.37,3.41],"nice":false,"zero":false},"axis":{"orient":"left","title":null,"format":"~g","values":[-0.2,0,0.2,0.4,0.6,0.8,1,1.2,1.4,1.6,1.8,2,2.2,2.4,2.6,2.8,3,3.2,3.4],"labelExpr":"datum.value % 1 === 0 ? datum.label : ''","tickSize":{"condition":{"test":"datum.value % 1 === 0","value":-6},"value":-3}}}}},
{"data":{"name":"mod"},"transform":[{"filter":"datum.p==7"}],"mark":{"type":"line","interpolate":"monotone","color":"#e3343c","strokeWidth":1,"clip":true},"encoding":{"x":{"field":"v","type":"quantitative","scale":{"domain":[-60,85],"nice":false,"zero":false},"axis":{"orient":"top","title":null,"labels":false,"values":[-60,-50,-40,-30,-20,-10,0,10,20,30,40,50,60,70,80],"tickSize":{"condition":{"test":"datum.value % 50 === 0","value":-6},"value":-3}}},"y":{"field":"t","type":"quantitative","scale":{"domain":[-0.37,3.41],"nice":false,"zero":false},"axis":{"orient":"right","title":null,"labels":false,"values":[-0.2,0,0.2,0.4,0.6,0.8,1,1.2,1.4,1.6,1.8,2,2.2,2.4,2.6,2.8,3,3.2,3.4],"tickSize":{"condition":{"test":"datum.value % 1 === 0","value":-6},"value":-3}}}}},
{"data":{"name":"lab"},"transform":[{"filter":"datum.p==7"}],"mark":{"type":"text","font":"Liberation Serif","fontSize":11.5,"color":"black","align":"center","baseline":"middle"},"encoding":{"x":{"field":"v","type":"quantitative","scale":{"domain":[-60,85],"nice":false,"zero":false},"axis":null},"y":{"field":"t","type":"quantitative","scale":{"domain":[-0.37,3.41],"nice":false,"zero":false},"axis":null},"text":{"field":"s"}}}
]},
{"width":116,"height":98,"resolve":{"axis":{"x":"independent","y":"independent"}},"layer":[
{"data":{"name":"obs"},"transform":[{"filter":"datum.p==8"}],"mark":{"type":"line","interpolate":"step","color":"black","strokeWidth":0.8,"clip":true},"encoding":{"x":{"field":"v","type":"quantitative","scale":{"domain":[-60,85],"nice":false,"zero":false},"axis":{"orient":"bottom","title":null,"values":[-60,-50,-40,-30,-20,-10,0,10,20,30,40,50,60,70,80],"labelExpr":"datum.value % 50 === 0 ? datum.label : ''","tickSize":{"condition":{"test":"datum.value % 50 === 0","value":-6},"value":-3}}},"y":{"field":"t","type":"quantitative","scale":{"domain":[-0.75,6.79],"nice":false,"zero":false},"axis":{"orient":"left","title":null,"format":"~g","values":[-0.5,0,0.5,1,1.5,2,2.5,3,3.5,4,4.5,5,5.5,6,6.5],"labelExpr":"datum.value % 2 === 0 ? datum.label : ''","tickSize":{"condition":{"test":"datum.value % 2 === 0","value":-6},"value":-3}}}}},
{"data":{"name":"mod"},"transform":[{"filter":"datum.p==8"}],"mark":{"type":"line","interpolate":"monotone","color":"#e3343c","strokeWidth":1,"clip":true},"encoding":{"x":{"field":"v","type":"quantitative","scale":{"domain":[-60,85],"nice":false,"zero":false},"axis":{"orient":"top","title":null,"labels":false,"values":[-60,-50,-40,-30,-20,-10,0,10,20,30,40,50,60,70,80],"tickSize":{"condition":{"test":"datum.value % 50 === 0","value":-6},"value":-3}}},"y":{"field":"t","type":"quantitative","scale":{"domain":[-0.75,6.79],"nice":false,"zero":false},"axis":{"orient":"right","title":null,"labels":false,"values":[-0.5,0,0.5,1,1.5,2,2.5,3,3.5,4,4.5,5,5.5,6,6.5],"tickSize":{"condition":{"test":"datum.value % 2 === 0","value":-6},"value":-3}}}}},
{"data":{"name":"lab"},"transform":[{"filter":"datum.p==8"}],"mark":{"type":"text","font":"Liberation Serif","fontSize":11.5,"color":"black","align":"center","baseline":"middle"},"encoding":{"x":{"field":"v","type":"quantitative","scale":{"domain":[-60,85],"nice":false,"zero":false},"axis":null},"y":{"field":"t","type":"quantitative","scale":{"domain":[-0.75,6.79],"nice":false,"zero":false},"axis":null},"text":{"field":"s"}}},
{"data":{"name":"tk"},"transform":[{"filter":"datum.p==8"}],"mark":{"type":"rule","color":"black","strokeWidth":0.8},"encoding":{"x":{"field":"v","type":"quantitative","scale":{"domain":[-60,85],"nice":false,"zero":false},"axis":null},"y":{"field":"t","type":"quantitative","scale":{"domain":[-0.75,6.79],"nice":false,"zero":false},"axis":null},"x2":{"field":"v2"},"y2":{"field":"t2"}}}
]}
],
"config":{
"view":{"stroke":"black","strokeWidth":1},
"axis":{"domain":false,"grid":false,"ticks":true,"tickColor":"black","tickWidth":0.8,"labelFont":"DejaVu Sans","labelFontSize":10,"labelColor":"black","labelOverlap":false,"labelFlush":false,"labelPadding":4,"titleFont":"Liberation Serif","titleFontSize":11,"titleFontWeight":"normal","titleColor":"black","titlePadding":4}
}
}
